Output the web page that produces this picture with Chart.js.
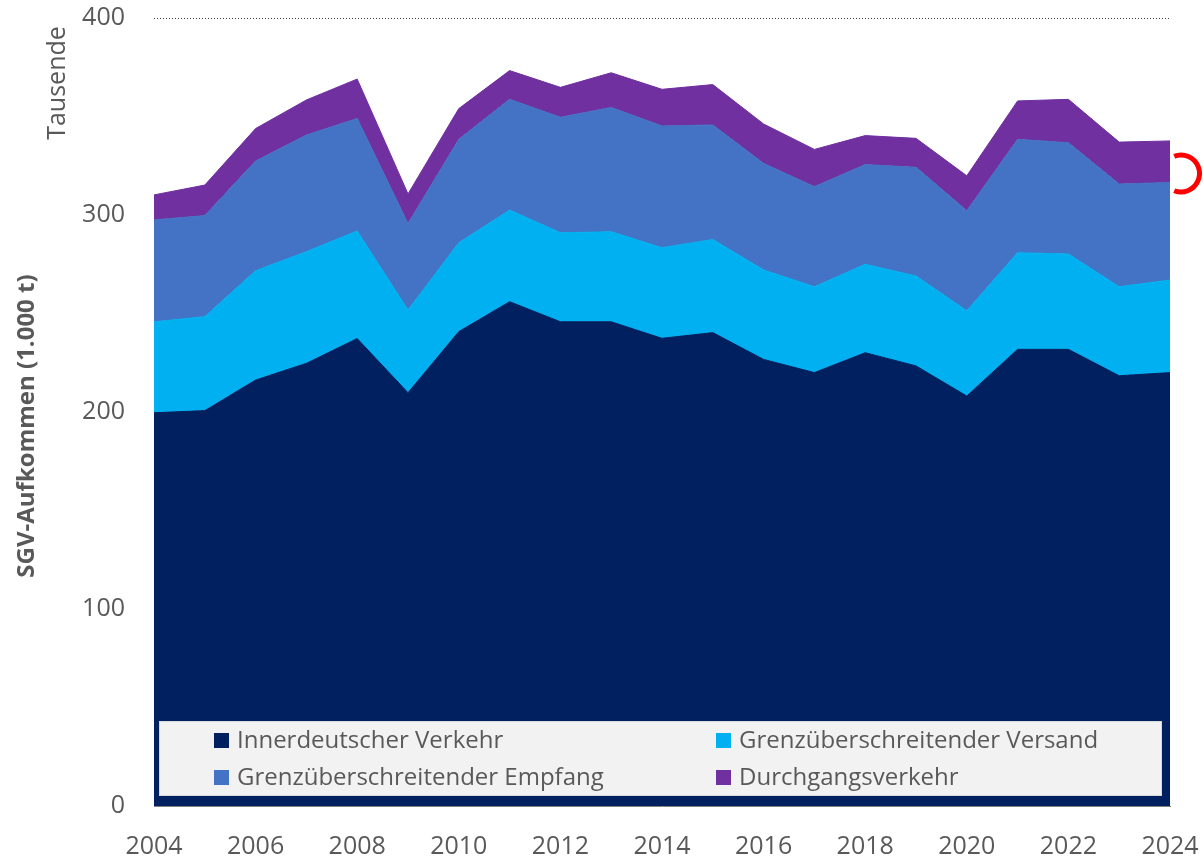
<!DOCTYPE html>
<html>
<head>
<meta charset="utf-8">
<script src="https://cdn.jsdelivr.net/npm/chart.js@4/dist/chart.umd.min.js"></script>
<style>
html,body{margin:0;padding:0;background:#fff;}
#wrap{position:relative;width:1204px;height:859px;}
</style>
</head>
<body>
<div id="wrap"><canvas id="c" width="1204" height="859"></canvas></div>
<script>
const years = ['2004','2005','2006','2007','2008','2009','2010','2011','2012','2013','2014','2015','2016','2017','2018','2019','2020','2021','2022','2023','2024'];
const innerdeutsch = [199.6,200.7,216.2,224.7,237.3,209.8,240.8,256.0,245.8,245.8,237.4,240.3,226.7,220.0,230.1,223.4,208.1,231.8,231.8,218.4,220.0];
const versand      = [46.2,47.7,55.5,56.7,54.6,42.0,45.1,46.5,45.2,45.7,46.0,47.3,45.4,43.6,44.9,45.6,43.3,49.1,48.4,45.2,47.0];
const empfang      = [51.7,51.3,55.7,59.2,57.1,43.9,52.5,56.2,58.6,63.1,61.8,58.1,54.1,50.8,50.6,55.2,50.8,57.5,56.5,52.1,49.5];
const durchgang    = [12.7,15.5,16.5,17.8,20.0,15.0,15.6,14.6,15.2,17.6,18.6,20.5,20.0,18.9,14.7,14.7,17.7,19.5,22.0,21.3,21.1];
const seriesNames = ['Innerdeutscher Verkehr','Grenzüberschreitender Versand','Grenzüberschreitender Empfang','Durchgangsverkehr'];
const yTicks = [0,100,200,300,400];
const yTitle = 'SGV-Aufkommen (1.000 t)';
const unitLabel = 'Tausende';

const colors = ['#002060','#00B0F0','#4472C4','#7030A0'];
const grey = '#595959';

function ds(label, data, color, fill){
  return {label, data, backgroundColor: color, borderColor: color, borderWidth: 1,
          fill, pointRadius: 0, pointHoverRadius: 0, tension: 0};
}

const legendPlugin = {
  id: 'customLegend',
  afterDatasetsDraw(chart){
    const ctx = chart.ctx;
    const x0 = 159, y0 = 721, w = 1003, h = 75;
    ctx.save();
    ctx.fillStyle = '#f2f2f2';
    ctx.fillRect(x0, y0, w, h);
    ctx.strokeStyle = '#d9d9d9';
    ctx.lineWidth = 1;
    ctx.strokeRect(x0+0.5, y0+0.5, w-1, h-1);
    const pos = [[214,740],[716,740],[214,777],[716,777]];
    ctx.font = '24px "Open Sans"';
    ctx.textBaseline = 'middle';
    chart.data.datasets.forEach((d,i)=>{
      const [mx,my] = pos[i];
      ctx.fillStyle = d.backgroundColor;
      ctx.fillRect(mx, my-7, 15, 15);
      ctx.fillStyle = grey;
      ctx.fillText(d.label, mx+23, my+1);
    });
    ctx.restore();
  },
  afterDraw(chart){
    const ctx = chart.ctx;
    ctx.save();
    ctx.fillStyle = grey;
    ctx.font = 'bold 24px "Open Sans"';
    ctx.textAlign = 'center';
    ctx.textBaseline = 'middle';
    ctx.translate(27, 426);
    ctx.rotate(-Math.PI/2);
    ctx.fillText(yTitle, 0, 0);
    ctx.restore();
    ctx.save();
    ctx.fillStyle = grey;
    ctx.font = '25px "Open Sans"';
    ctx.textAlign = 'center';
    ctx.textBaseline = 'middle';
    ctx.translate(58, 83);
    ctx.rotate(-Math.PI/2);
    ctx.fillText(unitLabel, 0, 0);
    ctx.restore();
    ctx.save();
    ctx.strokeStyle = '#ff0000';
    ctx.lineWidth = 5;
    ctx.beginPath();
    ctx.arc(1181, 173.5, 18.5, -Math.PI*0.62, Math.PI*0.62);
    ctx.stroke();
    ctx.restore();
  }
};

new Chart(document.getElementById('c'), {
  type: 'line',
  data: {
    labels: years,
    datasets: [
      ds(seriesNames[0], innerdeutsch, colors[0], 'origin'),
      ds(seriesNames[1], versand, colors[1], '-1'),
      ds(seriesNames[2], empfang, colors[2], '-1'),
      ds(seriesNames[3], durchgang, colors[3], '-1')
    ]
  },
  options: {
    responsive: false,
    animation: false,
    devicePixelRatio: 1,
    layout: {padding: {top: 18, right: 34, left: 0, bottom: 0}},
    plugins: {legend: {display: false}, tooltip: {enabled: false}},
    scales: {
      x: {
        offset: false,
        grid: {display: false, drawTicks: false},
        border: {display: true, color: '#7f7f7f', dash: [2,2], width: 1},
        ticks: {
          color: grey, font: {family: 'Open Sans', size: 25}, padding: 26,
          maxRotation: 0, autoSkip: false,
          callback: (v,i) => (i % 2 === 0 ? years[i] : null)
        },
        afterFit: s => { s.height = 53; s.paddingLeft = 0; s.paddingRight = 0; }
      },
      y: {
        stacked: true,
        min: 0, max: 400,
        afterBuildTicks: s => { s.ticks = yTicks.map(v => ({value: v})); },
        grid: {color: '#404040', drawTicks: false, lineWidth: 1},
        border: {display: false, dash: [1,2]},
        ticks: {color: grey, font: {family: 'Open Sans', size: 25}, padding: 29},
        afterFit: s => { s.width = 154; s.paddingTop = 0; s.paddingBottom = 0; }
      }
    }
  },
  plugins: [legendPlugin]
});
</script>
</body>
</html>
